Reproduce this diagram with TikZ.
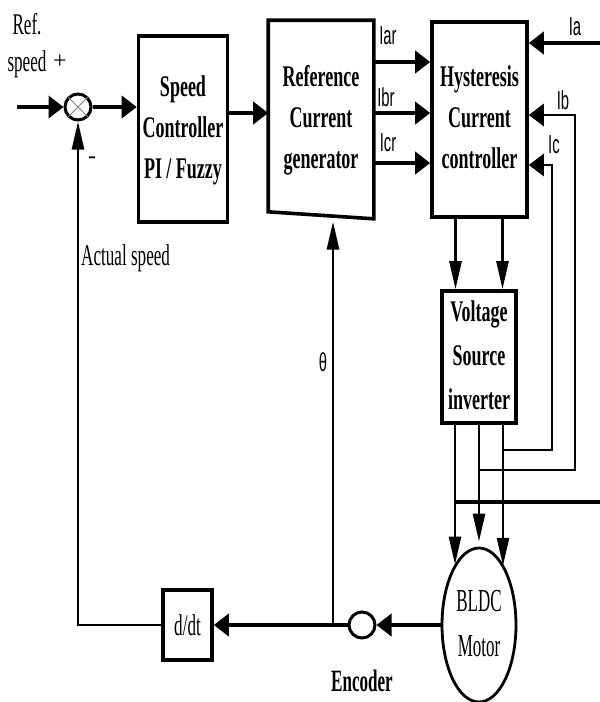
\documentclass[tikz,border=0pt]{standalone}
\usepackage{fontspec}
\setmainfont{Liberation Serif}
\newfontfamily\labelfont{Liberation Sans}
\usepackage{graphicx}
\usetikzlibrary{arrows.meta,calc,positioning,shapes.geometric}
\newcommand{\squeeze}[2][0.57]{\scalebox{#1}[1]{#2}}
\newcommand{\narrow}[2][0.6]{\scalebox{#1}[1]{\begin{tabular}{@{}c@{}}#2\end{tabular}}}

\begin{document}
\begin{tikzpicture}[x=1pt,y=-1pt,
  block/.style={draw,line width=3.6pt,inner sep=0pt,
                font=\fontsize{30}{41}\selectfont\bfseries},
  lbl/.style={inner sep=0pt,font=\fontsize{30}{36}\selectfont},
  sig/.style={inner sep=0pt,font=\labelfont\fontsize{26}{30}\selectfont},
  harr/.style={-{Triangle[length=15pt,width=22pt]},line width=4pt},
  varr/.style={-{Triangle[length=28pt,width=12pt]},line width=2.6pt},
  wire/.style={line width=2.8pt}
]
\useasboundingbox (0,0) rectangle (600,702);

% blocks
\node[draw,circle,line width=3pt,minimum size=26pt,inner sep=0pt] (sum) at (78,107) {};
\node[block,minimum width=89pt,minimum height=186pt] (speedctl) at (183,129)
  {\narrow{Speed\\Controller\\PI / Fuzzy}};
\node[block,draw=none,minimum width=102pt,minimum height=195pt] (refgen) at (321,119.5)
  {\narrow{Reference\\Current\\generator}};
\draw[line width=3.6pt] (refgen.north west) -- (refgen.north east) -- (refgen.south east)
  -- ($(refgen.south west)+(0,-7)$) -- cycle;
\node[block,minimum width=95pt,minimum height=195pt] (hyst) at (479.5,119.5)
  {\narrow{Hysteresis\\Current\\controller}};
\node[block,minimum width=74pt,minimum height=132pt,font=\fontsize{30}{44}\selectfont\bfseries]
  (vsi) at (479,357) {\narrow{Voltage\\Source\\inverter}};
\node[draw,ellipse,line width=2.8pt,minimum width=74pt,minimum height=154pt,inner sep=0pt,
  font=\fontsize{32}{45}\selectfont] (motor) at (479,625) {\narrow[0.53]{BLDC\\Motor}};
\node[draw,circle,line width=3pt,minimum size=26pt,inner sep=0pt] (enc) at (362,625) {};
\node[block,minimum width=49pt,minimum height=70pt,font=\fontsize{30}{36}\selectfont]
  (ddt) at (187.5,625) {\squeeze{d/dt}};

% labels
\node[lbl] at (27,24) {\squeeze{Ref.}};
\node[lbl] at (27,64) {\squeeze{speed}};
\node[lbl,font=\fontsize{24}{28}\selectfont] at (60,62) {+};
\node[lbl,font=\fontsize{24}{28}\selectfont] at (92,160) {-};
\node[lbl,anchor=west] at (81,258) {\squeeze{Actual speed}};
\node[lbl,font=\fontsize{31}{36}\selectfont\bfseries] at (362,681) {\squeeze[0.55]{Encoder}};
\node[sig] at (388,36) {\squeeze{Iar}};
\node[sig] at (386,97) {\squeeze{Ibr}};
\node[sig] at (388,143) {\squeeze{Icr}};
\node[sig] at (575,27) {\squeeze{Ia}};
\node[sig] at (563,100) {\squeeze{Ib}};
\node[sig] at (554,145) {\squeeze{Ic}};
\node[sig] at (323,362) {\squeeze{θ}};

% sum marks
\draw[gray,line width=0.8pt] (sum.north west) -- (sum.south east)
  (sum.north east) -- (sum.south west);

% forward path
\coordinate (refin) at (17,107);
\draw[harr] (refin) -- (sum.west);
\draw[harr] (sum.east) -- (sum.east -| speedctl.west);
\draw[harr] ([yshift=16pt]speedctl.east) -- ([yshift=16pt]speedctl.east -| refgen.west);
\foreach \dy in {57.5,6.5,-43.5}
  \draw[harr] ([yshift=\dy pt]refgen.east) -- ([yshift=\dy pt]hyst.west);
\foreach \dx in {-24,23}
  \draw[varr] ([xshift=\dx pt]hyst.south) -- ([xshift=\dx pt]hyst.south |- vsi.north);

% inverter to motor
\coordinate (va) at ([xshift=-24pt]vsi.south);
\coordinate (vb) at (vsi.south);
\coordinate (vc) at ([xshift=24pt]vsi.south);
\draw[varr] (va) -- (va |- motor.112.3);
\draw[varr] (vb) -- ([yshift=5pt]motor.north);
\draw[varr] (vc) -- (vc |- motor.67.7);

% current feedback
\coordinate (iaend) at (600,43);
\coordinate (iaturn) at (600,502);
\coordinate (ibturn) at (575,470);
\coordinate (icturn) at (552,450);
\draw[harr] (iaend) -- (iaend -| hyst.east);
\draw[line width=4pt] (iaturn -| va) -- (iaturn);
\draw[harr,wire] (ibturn -| vb) -- (ibturn) |- ([yshift=4.5pt]hyst.east);
\draw[harr,wire] (icturn -| vc) -- (icturn) |- ([yshift=-45.5pt]hyst.east);

% speed and position feedback
\coordinate (thetafoot) at (333,625);
\draw[harr] (motor.west) -- (enc.east);
\draw[harr] (enc.west) -- (ddt.east);
\draw[varr,shorten >=2.7pt] (thetafoot) -- (thetafoot |- refgen.south);
\draw[varr] (ddt.west) -- (ddt.west -| sum) -- (sum.south);
\end{tikzpicture}
\end{document}
